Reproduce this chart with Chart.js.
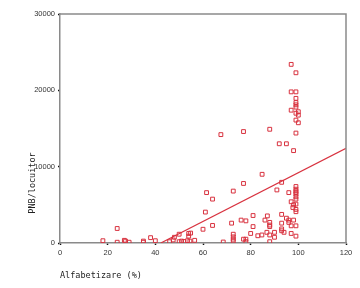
<!DOCTYPE html>
<html>
<head>
<meta charset="utf-8">
<script src="https://cdn.jsdelivr.net/npm/chart.js@4/dist/chart.umd.min.js"></script>
<style>
html,body{margin:0;padding:0;background:#fff;}
#wrap{width:360px;height:288px;position:relative;}
</style>
</head>
<body>
<div id="wrap"><canvas id="c" width="360" height="288"></canvas></div>
<script>
// Literacy (%) values
const literacy = [18,24,24,27,27.5,29,35,35,38,40,
  46,47.5,48,50,50,51,52,53.5,54.5,54,54.8,54,56.5,60,61,61.5,64,64,68.5,67.5,
  72,72.7,72.7,72.7,72.7,72.7,76,77,77,78,77,78,78,80,81,81,83,84.7,84.8,86,87,86.8,
  88,88,88,88,88,88,90,90,91,92,93,93,93,93,93,94,95,95,96,96,96,97,97,97,97,97,97,
  98,98,98,97.7,99,99,99,99,99,99,99,99,99,99,99,99,99,99,99,99,99,99,100,99,100,99,100,99];
// GNP per capita values
const gnp = [300,1900,100,350,250,100,250,100,700,300,
  170,400,750,1150,170,250,200,300,250,1250,1300,900,350,1800,4050,6600,5750,2300,130,14200,
  2600,6800,1150,800,500,250,3000,7800,14600,2900,500,500,170,1250,3600,2150,950,1050,9000,3000,3550,1400,
  2700,2350,2150,170,1050,14900,1400,750,6950,13000,3750,2600,1850,1600,7950,1400,3250,13000,3000,2700,6600,2250,1250,5400,23400,19800,17400,
  5000,3000,12100,4650,900,2250,7400,7050,6800,6600,6400,6050,5750,5100,4400,4100,22300,19800,18950,18400,18100,17800,17200,17000,16750,16100,15750,14400];
// Fit line endpoints
const fitX = [42.3, 120];
const fitY = [0, 12400];
const xTicks = [0,20,40,60,80,100,120];
const yTicks = [0,10000,20000,30000];
const xTitle = 'Alfabetizare (%)';
const yTitle = 'PNB/locuitor';

const points = literacy.map((v,i)=>({x:v,y:gnp[i]}));
const fitPts = fitX.map((v,i)=>({x:v,y:fitY[i]}));

const frame = {
  id:'frame',
  afterDraw(chart){
    const {ctx, chartArea:a} = chart;
    ctx.save();
    ctx.strokeStyle = '#8a8a8a';
    ctx.lineWidth = 1.5;
    ctx.beginPath();
    ctx.moveTo(a.left, a.top); ctx.lineTo(a.right, a.top); ctx.lineTo(a.right, a.bottom);
    ctx.stroke();
    ctx.fillStyle = '#222';
    ctx.font = '8.5px "DejaVu Sans Mono"';
    ctx.textAlign = 'left';
    ctx.textBaseline = 'middle';
    ctx.fillText(xTitle, a.left, 276);
    ctx.translate(33, 183);
    ctx.rotate(-Math.PI/2);
    ctx.textAlign = 'center';
    ctx.fillText(yTitle, 0, 0);
    ctx.restore();
  }
};

new Chart(document.getElementById('c'), {
  type:'scatter',
  data:{datasets:[
    {data:points, pointStyle:'rect', pointRadius:2.7, pointHoverRadius:2.7, borderColor:'#d8323f', hoverBorderColor:'#d8323f', backgroundColor:'rgba(0,0,0,0)', hoverBackgroundColor:'rgba(0,0,0,0)', borderWidth:1, hoverBorderWidth:1, showLine:false},
    {type:'line', data:fitPts, borderColor:'#d8323f', borderWidth:1.2, pointRadius:0, pointHoverRadius:0, fill:false, showLine:true}
  ]},
  options:{
    responsive:false, animation:false, devicePixelRatio:1, events:[],
    layout:{padding:{left:0, top:14, right:14, bottom:0}},
    plugins:{legend:{display:false}, tooltip:{enabled:false}},
    scales:{
      x:{type:'linear', min:0, max:120,
        afterBuildTicks(s){ s.ticks = xTicks.map(v=>({value:v})); },
        afterFit(s){ s.height = 45; },
        ticks:{font:{family:'"Liberation Sans"', size:7.5}, color:'#333', padding:3, maxRotation:0, callback:v=>String(v)},
        grid:{drawOnChartArea:false, tickLength:2, color:'#111', tickWidth:1.5},
        border:{color:'#8a8a8a', width:1.5}
      },
      y:{type:'linear', min:0, max:30000,
        afterBuildTicks(s){ s.ticks = yTicks.map(v=>({value:v})); },
        afterFit(s){ s.width = 60; },
        ticks:{font:{family:'"Liberation Sans"', size:7.5}, color:'#333', padding:3, callback:v=>String(v)},
        grid:{drawOnChartArea:false, tickLength:2, color:'#111', tickWidth:1.5},
        border:{color:'#8a8a8a', width:1.5}
      }
    }
  },
  plugins:[frame]
});
</script>
</body>
</html>
